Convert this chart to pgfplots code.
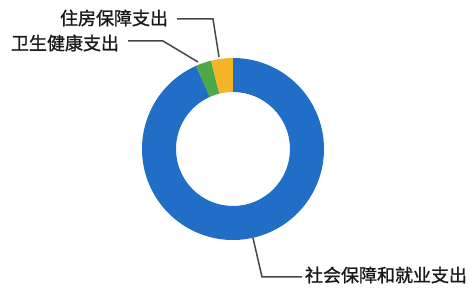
\documentclass[border=0pt]{standalone}
\usepackage{pgfplots}
\usepackage{pgfplotstable}
\pgfplotsset{compat=1.18}
\usepackage{fontspec}
\setmainfont{Noto Sans CJK SC}
\newfontfamily\cjkb{Noto Sans CJK SC}[FakeBold=1.2]
\definecolor{cblue}{RGB}{33,110,198}
\definecolor{cgreen}{RGB}{78,168,70}
\definecolor{cyellow}{RGB}{246,180,40}
\definecolor{cline}{RGB}{70,70,70}
\definecolor{ctext}{RGB}{25,25,25}
\pgfplotstableread[col sep=comma]{
key,value
housing,3.9
health,2.8
social,93.3
}\donutdata
\begin{document}
\begin{tikzpicture}
\pgfplotstablegetelem{0}{value}\of\donutdata \pgfmathsetmacro{\va}{\pgfplotsretval}
\pgfplotstablegetelem{1}{value}\of\donutdata \pgfmathsetmacro{\vb}{\pgfplotsretval}
\pgfplotstablegetelem{2}{value}\of\donutdata \pgfmathsetmacro{\vc}{\pgfplotsretval}
\pgfmathsetmacro{\aA}{90}
\pgfmathsetmacro{\aB}{90+\va*3.6}
\pgfmathsetmacro{\aC}{\aB+\vb*3.6}
\pgfmathsetmacro{\aD}{\aC+\vc*3.6}
\begin{axis}[x=1pt,y=1pt,xmin=0,xmax=469,ymin=0,ymax=289,hide axis,clip=false]
\path (axis cs:0,0) rectangle (axis cs:469,289);
\begin{scope}[shift={(axis cs:233,140)}]
\fill[cyellow] (\aA:91pt) arc[start angle=\aA,end angle=\aB,radius=91pt] -- (\aB:57pt) arc[start angle=\aB,end angle=\aA,radius=57pt] -- cycle;
\fill[cgreen] (\aB:91pt) arc[start angle=\aB,end angle=\aC,radius=91pt] -- (\aC:57pt) arc[start angle=\aC,end angle=\aB,radius=57pt] -- cycle;
\fill[cblue] (\aC:91pt) arc[start angle=\aC,end angle=\aD,radius=91pt] -- (\aD:57pt) arc[start angle=\aD,end angle=\aC,radius=57pt] -- cycle;
\end{scope}
\draw[cline,line width=1.5pt] (axis cs:177,270) -- (axis cs:213,270) -- (axis cs:219,232);
\draw[cline,line width=1.5pt] (axis cs:128,248) -- (axis cs:163,248) -- (axis cs:198,227);
\draw[cline,line width=1.5pt] (axis cs:253,51) -- (axis cs:262,12) -- (axis cs:302,12);
\node[ctext,font=\cjkb\fontsize{18}{20}\selectfont,inner sep=0pt] at (axis cs:114,271) {住房保障支出};
\node[ctext,font=\cjkb\fontsize{18}{20}\selectfont,inner sep=0pt] at (axis cs:65,246) {卫生健康支出};
\node[ctext,font=\cjkb\fontsize{18}{20}\selectfont,inner sep=0pt] at (axis cs:386,14) {社会保障和就业支出};
\end{axis}
\end{tikzpicture}
\end{document}
